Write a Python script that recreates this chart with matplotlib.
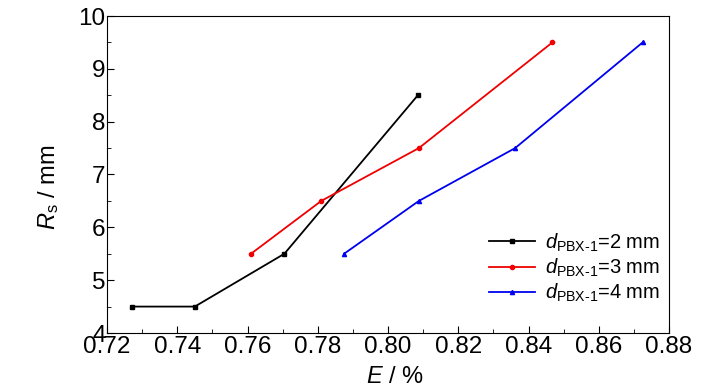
import matplotlib
matplotlib.use("Agg")
import matplotlib.pyplot as plt
from matplotlib.ticker import MultipleLocator

plt.rcParams['font.family'] = ['Liberation Sans', 'DejaVu Sans']
plt.rcParams['mathtext.fontset'] = 'custom'
plt.rcParams['mathtext.rm'] = 'Liberation Sans'
plt.rcParams['mathtext.it'] = 'Liberation Sans:italic'

# data
E_2mm = [0.727, 0.745, 0.7705, 0.8085]
Rs_2mm = [4.5, 4.5, 5.5, 8.5]
E_3mm = [0.761, 0.781, 0.8088, 0.8468]
Rs_3mm = [5.5, 6.5, 7.5, 9.5]
E_4mm = [0.7875, 0.8088, 0.8362, 0.8725]
Rs_4mm = [5.5, 6.5, 7.5, 9.5]
labels = ["=2 mm", "=3 mm", "=4 mm"]

fig = plt.figure(figsize=(7.28, 3.9), dpi=100)
ax = fig.add_axes([107/728, 1-333/390, 562/728, 317/390])

d_lab = r"$d_{\mathrm{PBX\text{-}1}}$"
ax.plot(E_2mm, Rs_2mm, color='black', marker='s', markersize=3, lw=1.3,
        label=d_lab + labels[0])
ax.plot(E_3mm, Rs_3mm, color='#f00000', marker='o', markersize=3, lw=1.3,
        label=d_lab + labels[1])
ax.plot(E_4mm, Rs_4mm, color='#0000f0', marker='^', markersize=3, lw=1.3,
        label=d_lab + labels[2])

ax.set_xlim(0.72, 0.88)
ax.set_ylim(4, 10)
ax.xaxis.set_major_locator(MultipleLocator(0.02))
ax.xaxis.set_minor_locator(MultipleLocator(0.01))
ax.yaxis.set_major_locator(MultipleLocator(1))
ax.yaxis.set_minor_locator(MultipleLocator(0.5))
ax.xaxis.set_major_formatter(plt.FormatStrFormatter('%.2f'))
ax.tick_params(which='both', direction='in', labelsize=17.5, top=False, right=False)
ax.tick_params(which='major', length=5)
ax.tick_params(which='minor', length=3)
ax.tick_params(axis='x', pad=2.5)
ax.tick_params(axis='y', pad=1)

ax.set_xlabel(r"$E$ / %", fontsize=17)
ax.xaxis.set_label_coords(0.512, -0.105)
ax.set_ylabel(r"$R_{\mathrm{s}}$ / mm", fontsize=17)
ax.yaxis.set_label_coords(-0.082, 0.46)

ax.legend(loc='lower right', frameon=False, fontsize=14.5, handlelength=2.3,
          labelspacing=0.15, bbox_to_anchor=(0.985, 0.09), handletextpad=0.5,
          borderpad=0, borderaxespad=0)

fig.savefig("out.png", dpi=100)
